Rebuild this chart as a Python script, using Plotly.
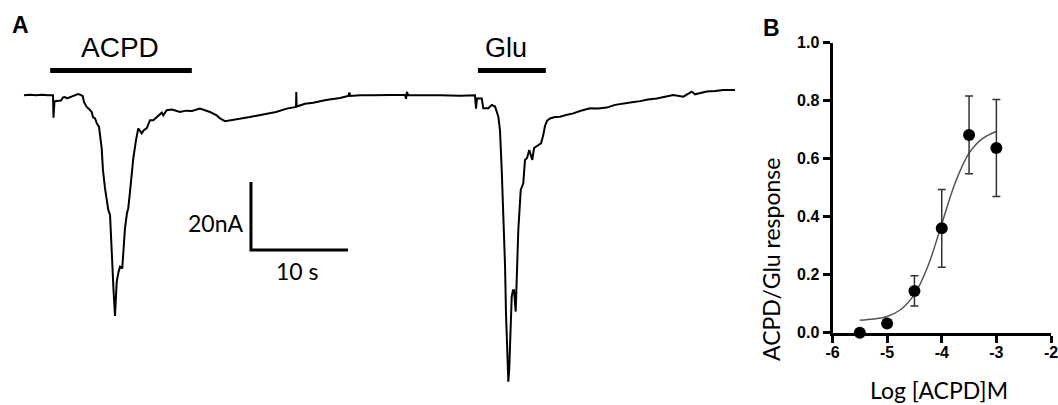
import plotly.graph_objects as go

# ---------------- Panel A: current trace (time in s, current in nA) ----------------
trace_t = [0, 0.62, 1.24, 1.86, 2.47, 2.99, 3.04, 3.14, 3.51, 3.81, 4.02, 4.23, 4.43, 4.74, 4.95,
           5.26, 5.57, 5.77, 6.05, 6.19, 6.46, 6.70, 6.98, 7.11, 7.32, 7.53, 7.73, 8.01, 8.14, 8.35,
           8.69, 8.87, 9.04, 9.23, 9.38, 9.56, 9.74, 9.90, 10.13, 10.41, 10.62, 10.75, 10.93, 11.27,
           11.55, 11.78, 12.13, 12.37, 12.65, 12.99, 13.33, 13.85, 14.20, 14.36, 14.71, 15.26, 16.08,
           16.70, 17.32, 18.14, 18.66, 19.18, 19.87, 20.21, 20.72, 21.44, 22.27, 23.30, 24.12, 25.02,
           25.98, 27.08, 28.04, 28.07, 28.11, 28.97, 29.82, 31.13, 32.58, 33.43, 33.54, 33.64, 34.64,
           36.01, 37.73, 39.28, 39.38, 39.48, 39.59, 40.82, 42.89, 44.95, 46.49, 46.60, 46.70, 46.80,
           47.19, 47.35, 47.87, 48.22, 48.56, 48.90, 49.07, 49.25, 49.41, 49.59, 49.69, 49.82, 49.93,
           50.02, 50.10, 50.28, 50.41, 50.52, 50.69, 50.82, 50.96, 51.21, 51.47, 51.65, 51.86, 52.09,
           52.40, 52.58, 52.78, 53.30, 53.51, 53.71, 53.92, 54.23, 54.74, 55.26, 55.88, 56.63, 57.32,
           58.35, 59.18, 60.07, 60.93, 61.79, 62.68, 63.51, 64.33, 65.23, 66.08, 66.94, 67.97, 68.84,
           69.18, 69.69, 70.38, 71.24, 72.09, 73.30]
trace_i = [-0.1, 0.1, -0.1, 0.1, -0.1, -0.1, -6.7, -1.9, -1.7, -1.6, -0.7, -0.6, -1.0, -0.7, -0.4,
           0.0, 0.3, 0.1, -0.3, -2.1, -3.5, -4.1, -5.0, -6.5, -6.9, -8.5, -9.3, -15.7, -22.1, -27.4,
           -33.8, -35.3, -47.1, -57.4, -65.0, -54.9, -52.1, -50.5, -51.0, -39.2, -34.7, -33.3, -28.4, -18.6,
           -13.2, -9.8, -11.3, -10.3, -9.8, -7.4, -7.4, -6.0, -5.2, -6.0, -4.5, -4.3, -5.0,
           -4.6, -4.7, -4.0, -4.4, -5.0, -6.0, -6.9, -7.7, -7.4, -7.0, -6.5, -6.0, -5.5,
           -5.0, -4.0, -3.5, 0.9, -3.4, -2.6, -2.3, -1.5, -0.9, -0.3, 0.7, -0.3, -0.1,
           -0.1, 0.1, 0.1, -1.1, 0.9, 0.0, -0.1, -0.1, -0.2, -0.1, -4.0, -1.0, -1.0,
           -1.0, -3.9, -3.9, -2.9, -3.4, -6.4, -10.3, -22.1, -34.8, -50.0, -64.2, -76.5, -84.3,
           -80.9, -74.0, -59.3, -57.4, -57.4, -63.7, -50.0, -39.7, -27.9, -26.0, -19.1, -18.5, -16.2,
           -19.1, -15.6, -15.2, -14.2, -12.1, -9.1, -7.6, -6.9, -6.5, -6.4, -5.9, -5.4, -4.7,
           -3.9, -4.0, -3.7, -2.9, -2.4, -2.1, -1.8, -1.3, -1.0, -0.6, 0.0, -0.5, 1.0,
           0.2, 0.6, 1.0, 1.2, 1.5, 1.5]

# drug application periods (s)
stim_names = ["ACPD", "Glu"]
stim_on = [2.7, 46.8]
stim_off = [17.3, 53.8]

# scale bar sizes
scale_time_s = 10
scale_current_na = 20
scale_time_label = "10 s"
scale_current_label = "20nA"

# ---------------- Panel B: concentration-response ----------------
log_conc = [-5.5, -5.0, -4.5, -4.0, -3.5, -3.0]
response = [0.0, 0.032, 0.144, 0.36, 0.682, 0.637]
response_err = [0.0, 0.01, 0.052, 0.134, 0.134, 0.167]

fit_x = [-5.5, -5.25, -5.0, -4.75, -4.5, -4.25, -4.0, -3.75, -3.5, -3.25, -3.0]
fit_y = [0.043, 0.047, 0.056, 0.080, 0.132, 0.231, 0.375, 0.519, 0.619, 0.670, 0.694]

xticks_b = [-6, -5, -4, -3, -2]
yticks_b = [0.0, 0.2, 0.4, 0.6, 0.8, 1.0]

# ---------------- layout constants (pixels) ----------------
W, H = 1058, 405
PX_PER_S = 9.7
PX_PER_NA = 3.4
X0_PX = 24      # pixel of t = 0
Y0_PX = 95      # pixel of baseline
BAR_LEVEL = 7.2     # nA above baseline where stimulus bars are drawn
SCALE_T0 = 23.4     # s, corner of scale bar
SCALE_I0 = -45.6    # nA, corner of scale bar

fig = go.Figure()

fig.add_trace(go.Scatter(x=trace_t, y=trace_i, mode="lines",
                         line=dict(color="black", width=2),
                         xaxis="x", yaxis="y", showlegend=False, hoverinfo="skip"))

# stimulus bars
for name, on, off in zip(stim_names, stim_on, stim_off):
    fig.add_trace(go.Scatter(x=[on, off], y=[BAR_LEVEL, BAR_LEVEL], mode="lines",
                             line=dict(color="black", width=5),
                             xaxis="x", yaxis="y", showlegend=False, hoverinfo="skip"))

fig.add_annotation(x=(stim_on[0] + stim_off[0]) / 2, y=BAR_LEVEL, xref="x", yref="y",
                   text=stim_names[0], showarrow=False, yshift=23, xshift=-1,
                   xanchor="center", yanchor="middle",
                   font=dict(family="Liberation Sans, Arial", size=28, color="black"))
fig.add_annotation(x=(stim_on[1] + stim_off[1]) / 2, y=BAR_LEVEL, xref="x", yref="y",
                   text=stim_names[1], showarrow=False, yshift=23, xshift=-6,
                   xanchor="center", yanchor="middle",
                   font=dict(family="Liberation Sans, Arial", size=27, color="black"))

# scale bar
fig.add_trace(go.Scatter(x=[SCALE_T0, SCALE_T0, SCALE_T0 + scale_time_s],
                         y=[SCALE_I0 + scale_current_na, SCALE_I0, SCALE_I0],
                         mode="lines", line=dict(color="black", width=3),
                         xaxis="x", yaxis="y", showlegend=False, hoverinfo="skip"))
fig.add_annotation(x=SCALE_T0, y=SCALE_I0 + scale_current_na / 2, xref="x", yref="y",
                   text=scale_current_label, showarrow=False, xanchor="right", yanchor="middle",
                   xshift=-5, yshift=-7,
                   font=dict(family="Lato", size=23, color="black"))
fig.add_annotation(x=SCALE_T0 + scale_time_s / 2, y=SCALE_I0, xref="x", yref="y",
                   text=scale_time_label, showarrow=False, xanchor="center", yanchor="middle",
                   yshift=-21, xshift=-2,
                   font=dict(family="Lato", size=23, color="black"))

# Panel B
fig.add_trace(go.Scatter(x=fit_x, y=fit_y, mode="lines", line=dict(color="#555555", width=1.5, shape="spline"),
                         xaxis="x2", yaxis="y2", showlegend=False, hoverinfo="skip", cliponaxis=False))
fig.add_trace(go.Scatter(x=log_conc, y=response, mode="markers",
                         marker=dict(color="black", size=12, symbol="circle"),
                         error_y=dict(type="data", array=response_err, visible=True,
                                      color="#333333", thickness=1.5, width=4),
                         xaxis="x2", yaxis="y2", showlegend=False, cliponaxis=False))

fig.update_layout(
    width=W, height=H, autosize=False, showlegend=False,
    margin=dict(l=0, r=0, t=0, b=0, pad=0, autoexpand=False),
    paper_bgcolor="white", plot_bgcolor="white",
    xaxis=dict(domain=[0, 1], range=[-X0_PX / PX_PER_S, (W - X0_PX) / PX_PER_S], visible=False,
               automargin=False),
    yaxis=dict(domain=[0, 1], range=[(Y0_PX - H) / PX_PER_NA, Y0_PX / PX_PER_NA], visible=False,
               automargin=False),
    xaxis2=dict(domain=[832.5 / W, 1051 / W], range=[-6, -2], anchor="y2", automargin=False,
                tickvals=xticks_b, ticktext=[str(v) for v in xticks_b],
                showline=True, linecolor="black", linewidth=3, ticks="outside", ticklen=7,
                tickwidth=3, tickcolor="black", showgrid=False, zeroline=False,
                ticklabelstandoff=-4, ticklabeloverflow="allow",
                tickfont=dict(family="Liberation Sans, Arial", size=16, color="black", weight="bold")),
    yaxis2=dict(domain=[(H - 332.7) / H, (H - 42.7) / H], range=[0, 1.0], anchor="x2", automargin=False,
                tickvals=yticks_b, ticktext=[f"{v:.1f}" for v in yticks_b],
                showline=True, linecolor="black", linewidth=3, ticks="outside", ticklen=7,
                tickwidth=3, tickcolor="black", showgrid=False, zeroline=False,
                ticklabeloverflow="allow",
                tickfont=dict(family="Liberation Sans, Arial", size=16, color="black", weight="bold")),
)

# axis titles and panel letters
fig.add_annotation(x=771 / W, y=(H - 260) / H, xref="paper", yref="paper", text="ACPD/Glu response",
                   textangle=-90, showarrow=False, xanchor="center", yanchor="middle",
                   font=dict(family="Lato", size=23, color="black"))
fig.add_annotation(x=939 / W, y=(H - 389.5) / H, xref="paper", yref="paper", text="Log [ACPD]M",
                   showarrow=False, xanchor="center", yanchor="middle",
                   font=dict(family="Lato", size=23, color="black"))
fig.add_annotation(x=20.5 / W, y=(H - 24.7) / H, xref="paper", yref="paper", text="A",
                   showarrow=False, xanchor="center", yanchor="middle",
                   font=dict(family="Liberation Sans, Arial", size=23, color="black", weight="bold"))
fig.add_annotation(x=771.5 / W, y=(H - 28.1) / H, xref="paper", yref="paper", text="B",
                   showarrow=False, xanchor="center", yanchor="middle",
                   font=dict(family="Liberation Sans, Arial", size=23, color="black", weight="bold"))

fig.write_html("out.html", config={"displayModeBar": False},
               post_script="document.body.style.margin='0';document.body.style.overflow='hidden';")
